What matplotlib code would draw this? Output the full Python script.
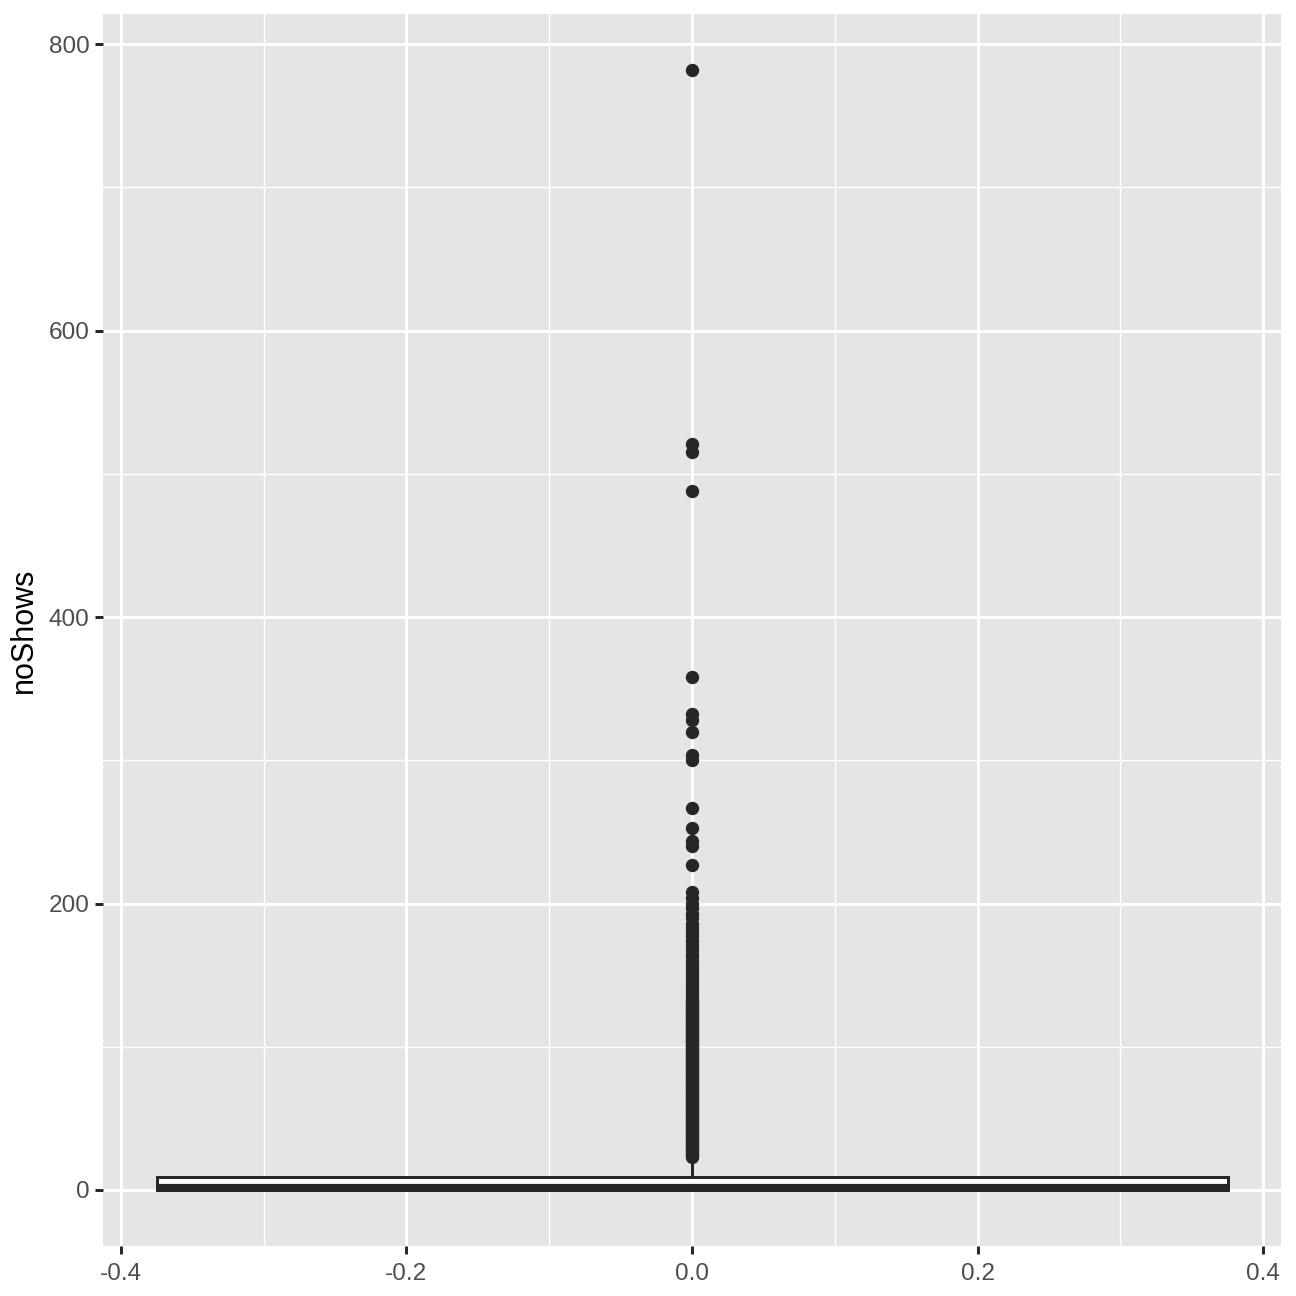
import matplotlib
matplotlib.use("Agg")
import matplotlib.pyplot as plt

plt.rcParams["font.family"] = ["Liberation Sans", "DejaVu Sans"]

# box summary
q1 = 0
median = 2
q3 = 9
whisker_lo = 0
whisker_hi = 22

# outliers (dense block plus the sparse ones above it)
dense_outliers = [
    23, 24, 25, 26, 27, 28, 29, 30, 31, 32, 33, 34, 35, 36, 37, 38, 39, 40,
    41, 42, 43, 44, 45, 46, 47, 48, 49, 50, 51, 52, 53, 54, 55, 56, 57, 58,
    59, 60, 61, 62, 63, 64, 65, 66, 67, 68, 69, 70, 71, 72, 73, 74, 75, 76,
    77, 78, 79, 80, 81, 82, 83, 84, 85, 86, 87, 88, 89, 90, 91, 92, 93, 94,
    95, 96, 97, 98, 99, 100, 101, 102, 103, 104, 105, 106, 107, 108, 109, 110,
    111, 112, 113, 114, 115, 116, 117, 118, 119, 120, 121, 122, 123, 124, 125,
    126, 127, 128, 129, 130, 131, 132, 133, 135, 137, 139, 141, 143, 145, 148,
    150, 153, 155, 158, 160, 163, 165, 168, 171, 174, 177, 180, 183, 186, 190,
    193, 197, 200, 204, 208,
]
sparse_outliers = [227, 240, 244, 253, 267, 300, 304, 320, 328, 332, 358,
                   488, 515, 521, 782]

x_ticks = [-0.4, -0.2, 0.0, 0.2, 0.4]
x_tick_labels = ["-0.4", "-0.2", "0.0", "0.2", "0.4"]
y_ticks = [0, 200, 400, 600, 800]

stats = [dict(med=median, q1=q1, q3=q3, whislo=whisker_lo, whishi=whisker_hi,
              fliers=dense_outliers + sparse_outliers)]

fig = plt.figure(figsize=(6.48, 6.48), dpi=200)
ax = fig.add_axes([0.0795, 0.0386, 0.909, 0.9506])
ax.set_facecolor("#E5E5E5")

dark = "#262626"
ax.bxp(stats, positions=[0], widths=0.75, patch_artist=True, showcaps=False,
       boxprops=dict(facecolor="white", edgecolor=dark, linewidth=1.07),
       medianprops=dict(color=dark, linewidth=2.6, solid_capstyle="butt"),
       whiskerprops=dict(color=dark, linewidth=1.07),
       flierprops=dict(marker="o", markerfacecolor=dark, markeredgecolor=dark,
                       markersize=4.3, markeredgewidth=0.5),
       manage_ticks=False, zorder=3)

ax.set_xlim(-0.4125, 0.4125)
ax.set_ylim(-39.1, 821.1)

ax.set_xticks(x_ticks)
ax.set_xticklabels(x_tick_labels)
ax.set_yticks(y_ticks)
ax.set_xticks([-0.3, -0.1, 0.1, 0.3], minor=True)
ax.set_yticks([100, 300, 500, 700], minor=True)

ax.grid(True, which="major", color="white", linewidth=1.07, zorder=0)
ax.grid(True, which="minor", color="white", linewidth=0.53, zorder=0)
ax.set_axisbelow(True)

for s in ax.spines.values():
    s.set_visible(False)

ax.tick_params(which="major", length=2.75, width=1.07, color=dark,
               labelsize=8.8, labelcolor="#4D4D4D", pad=2.2)
ax.tick_params(axis="x", which="major", pad=3.2)
ax.tick_params(which="minor", length=0)

ax.set_ylabel("noShows", fontsize=11, color="black", labelpad=3.3)

fig.savefig("out.png", dpi=200)
